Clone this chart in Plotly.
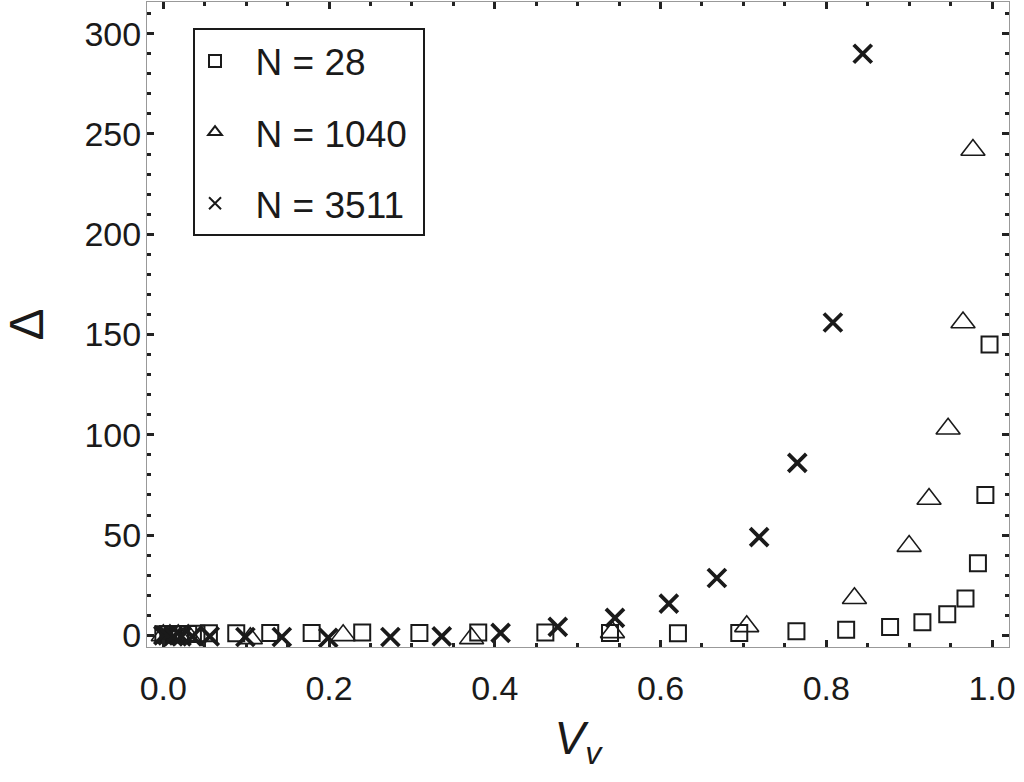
import plotly.graph_objects as go

# N = 28 (squares)
sq_x = [0.000, 0.006, 0.012, 0.020, 0.030, 0.040, 0.055, 0.088, 0.129, 0.179, 0.240, 0.309,
        0.380, 0.461, 0.539, 0.621, 0.695, 0.764, 0.824, 0.877, 0.916, 0.946, 0.968, 0.983,
        0.992, 0.997]
sq_y = [0.5, 0.5, 0.6, 0.6, 0.7, 0.8, 1.0, 1.0, 1.2, 1.2, 1.4, 1.2,
        1.4, 1.4, 1.2, 1.0, 1.2, 2.0, 2.8, 4.2, 6.5, 10.5, 18.4, 36,
        70, 145]

# N = 1040 (triangles)
tr_x = [0.000, 0.008, 0.018, 0.030, 0.105, 0.217, 0.372, 0.542, 0.704, 0.834, 0.900,
        0.924, 0.947, 0.965, 0.977]
tr_y = [0, 0, 0, 0, -1.5, 0, -1.5, 1.5, 4.5, 18.5, 44.5, 68, 103, 156, 242]

# N = 3511 (crosses)
x_x = [0.000, 0.005, 0.012, 0.022, 0.035, 0.056, 0.099, 0.143, 0.199, 0.274, 0.336,
       0.407, 0.476, 0.545, 0.610, 0.668, 0.719, 0.765, 0.808, 0.844]
x_y = [0, 0, -0.5, -0.5, -0.5, -0.5, -0.8, -0.8, -1.2, -0.8, -0.5,
       1.2, 4.2, 8.7, 15.8, 28.6, 49, 86, 156, 290]

names = ["\u00a0\u00a0N = 28\u00a0", "\u00a0\u00a0N = 1040\u00a0", "\u00a0\u00a0N = 3511\u00a0"]

ink = "#1a1a1a"
fig = go.Figure()
fig.add_trace(go.Scatter(x=sq_x, y=sq_y, mode="markers", name=names[0], legendgroup="a",
                         marker=dict(symbol="square-open", size=16, color=ink,
                                     line=dict(width=2, color=ink))))
fig.add_trace(go.Scatter(x=tr_x, y=tr_y, mode="markers", name=names[1], legendgroup="b",
                         marker=dict(symbol="triangle-up-open", size=21, color=ink,
                                     line=dict(width=1.6, color=ink))))
fig.add_trace(go.Scatter(x=x_x, y=x_y, mode="markers", name=names[2], legendgroup="c",
                         marker=dict(symbol="x-thin-open", size=18, color=ink,
                                     line=dict(width=3.8, color=ink))))

axis_common = dict(
    ticks="inside", ticklen=7, tickwidth=3, tickcolor="#222",
    showline=True, linecolor="#999", linewidth=1, mirror="allticks",
    showgrid=False, zeroline=False, automargin=False,
    tickfont=dict(size=34, color=ink),
)

fig.update_xaxes(
    range=[-0.0197, 1.0205], tick0=0, dtick=0.2, tickformat=".1f",
    ticklabelstandoff=11,
    minor=dict(dtick=0.05, ticks="inside", ticklen=4, tickwidth=3, tickcolor="#222"),
    title=dict(text="<i>V</i><sub><i>v</i></sub>", font=dict(size=46, color=ink), standoff=16),
    **axis_common,
)
fig.update_yaxes(
    range=[-5.8, 315.8], tick0=0, dtick=50,
    ticklabelstandoff=-2,
    minor=dict(dtick=10, ticks="inside", ticklen=4, tickwidth=3, tickcolor="#222"),
    title=dict(text="Δ", font=dict(size=48, color=ink), standoff=40),
    **axis_common,
)

fig.update_layout(
    width=1024, height=782,
    margin=dict(l=147, r=15, t=2, b=135),
    paper_bgcolor="white", plot_bgcolor="white",
    font=dict(family="Liberation Sans, Arial, sans-serif", color=ink),
    showlegend=True,
    legend=dict(x=0.0534, y=0.959, xanchor="left", yanchor="top",
                bordercolor=ink, borderwidth=2, bgcolor="white",
                font=dict(size=37, color=ink), tracegroupgap=20,
                itemsizing="constant"),
)

fig.write_html("out.html", config={"displayModeBar": False},
               post_script="document.body.style.margin='0';document.body.style.overflow='hidden';")
